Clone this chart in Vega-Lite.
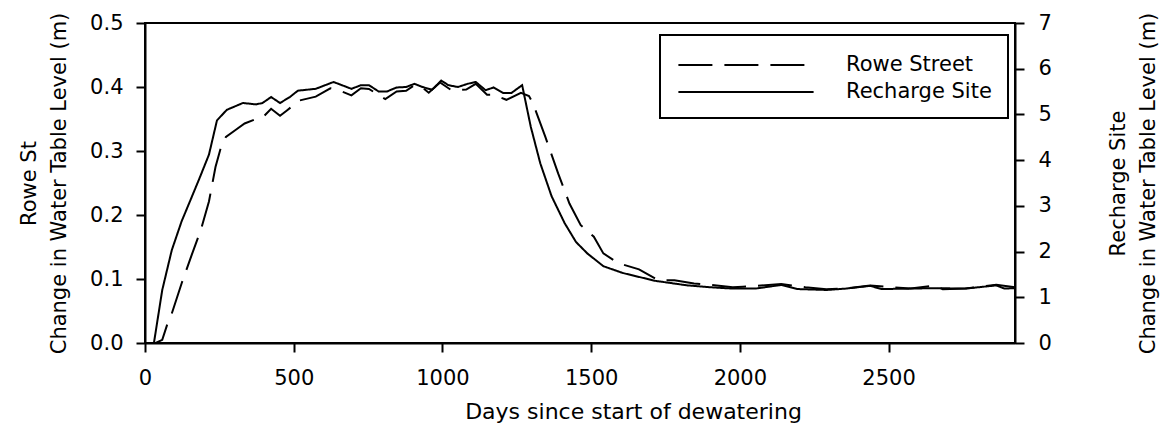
{
  "$schema": "https://vega.github.io/schema/vega-lite/v6.json",
  "width": 870,
  "height": 320,
  "autosize": {"type": "none"},
  "padding": {"left": 145, "top": 23, "right": 146, "bottom": 88},
  "background": "white",
  "config": {
    "font": "DejaVu Sans",
    "view": {"stroke": "black", "strokeWidth": 2},
    "axis": {
      "grid": false,
      "domainColor": "black",
      "domainWidth": 2,
      "tickColor": "black",
      "tickWidth": 2,
      "tickSize": 9,
      "labelColor": "black",
      "labelFont": "DejaVu Sans",
      "labelFontSize": 21,
      "labelFlush": false,
      "labelOverlap": false,
      "titleColor": "black",
      "titleFont": "DejaVu Sans",
      "titleFontSize": 21,
      "titleFontWeight": "normal",
      "titleLineHeight": 30
    },
    "legend": {
      "labelFont": "DejaVu Sans",
      "labelFontSize": 21,
      "labelColor": "black"
    }
  },
  "datasets": {
    "rowe": [
      {"day": 0, "series": "Rowe Street", "level": 0},
      {"day": 36, "series": "Rowe Street", "level": 0},
      {"day": 58, "series": "Rowe Street", "level": 0.005},
      {"day": 74, "series": "Rowe Street", "level": 0.028},
      {"day": 90, "series": "Rowe Street", "level": 0.046},
      {"day": 123, "series": "Rowe Street", "level": 0.093},
      {"day": 155, "series": "Rowe Street", "level": 0.135},
      {"day": 188, "series": "Rowe Street", "level": 0.177},
      {"day": 215, "series": "Rowe Street", "level": 0.221},
      {"day": 237, "series": "Rowe Street", "level": 0.275},
      {"day": 253, "series": "Rowe Street", "level": 0.302},
      {"day": 272, "series": "Rowe Street", "level": 0.322},
      {"day": 302, "series": "Rowe Street", "level": 0.332},
      {"day": 335, "series": "Rowe Street", "level": 0.343},
      {"day": 373, "series": "Rowe Street", "level": 0.350},
      {"day": 395, "series": "Rowe Street", "level": 0.352},
      {"day": 424, "series": "Rowe Street", "level": 0.366},
      {"day": 454, "series": "Rowe Street", "level": 0.355},
      {"day": 476, "series": "Rowe Street", "level": 0.363},
      {"day": 520, "series": "Rowe Street", "level": 0.379},
      {"day": 574, "series": "Rowe Street", "level": 0.385},
      {"day": 623, "series": "Rowe Street", "level": 0.398},
      {"day": 661, "series": "Rowe Street", "level": 0.393},
      {"day": 694, "series": "Rowe Street", "level": 0.387},
      {"day": 726, "series": "Rowe Street", "level": 0.398},
      {"day": 753, "series": "Rowe Street", "level": 0.397},
      {"day": 808, "series": "Rowe Street", "level": 0.381},
      {"day": 846, "series": "Rowe Street", "level": 0.393},
      {"day": 878, "series": "Rowe Street", "level": 0.394},
      {"day": 906, "series": "Rowe Street", "level": 0.403},
      {"day": 933, "series": "Rowe Street", "level": 0.399},
      {"day": 954, "series": "Rowe Street", "level": 0.391},
      {"day": 992, "series": "Rowe Street", "level": 0.407},
      {"day": 1030, "series": "Rowe Street", "level": 0.395},
      {"day": 1080, "series": "Rowe Street", "level": 0.396},
      {"day": 1112, "series": "Rowe Street", "level": 0.405},
      {"day": 1150, "series": "Rowe Street", "level": 0.388},
      {"day": 1172, "series": "Rowe Street", "level": 0.388},
      {"day": 1215, "series": "Rowe Street", "level": 0.380},
      {"day": 1264, "series": "Rowe Street", "level": 0.391},
      {"day": 1291, "series": "Rowe Street", "level": 0.386},
      {"day": 1304, "series": "Rowe Street", "level": 0.375},
      {"day": 1319, "series": "Rowe Street", "level": 0.356},
      {"day": 1346, "series": "Rowe Street", "level": 0.322},
      {"day": 1389, "series": "Rowe Street", "level": 0.265},
      {"day": 1427, "series": "Rowe Street", "level": 0.218},
      {"day": 1465, "series": "Rowe Street", "level": 0.184},
      {"day": 1509, "series": "Rowe Street", "level": 0.166},
      {"day": 1541, "series": "Rowe Street", "level": 0.140},
      {"day": 1590, "series": "Rowe Street", "level": 0.125},
      {"day": 1661, "series": "Rowe Street", "level": 0.115},
      {"day": 1726, "series": "Rowe Street", "level": 0.098},
      {"day": 1780, "series": "Rowe Street", "level": 0.098},
      {"day": 1846, "series": "Rowe Street", "level": 0.093},
      {"day": 1922, "series": "Rowe Street", "level": 0.090},
      {"day": 1976, "series": "Rowe Street", "level": 0.087},
      {"day": 2010, "series": "Rowe Street", "level": 0.088},
      {"day": 2139, "series": "Rowe Street", "level": 0.092},
      {"day": 2220, "series": "Rowe Street", "level": 0.087},
      {"day": 2291, "series": "Rowe Street", "level": 0.084},
      {"day": 2356, "series": "Rowe Street", "level": 0.085},
      {"day": 2438, "series": "Rowe Street", "level": 0.090},
      {"day": 2574, "series": "Rowe Street", "level": 0.085},
      {"day": 2655, "series": "Rowe Street", "level": 0.090},
      {"day": 2682, "series": "Rowe Street", "level": 0.084},
      {"day": 2758, "series": "Rowe Street", "level": 0.085},
      {"day": 2862, "series": "Rowe Street", "level": 0.091},
      {"day": 2925, "series": "Rowe Street", "level": 0.087}
    ],
    "recharge": [
      {"day": 0, "series": "Recharge Site", "level": 0},
      {"day": 30, "series": "Recharge Site", "level": 0},
      {"day": 58, "series": "Recharge Site", "level": 1.16},
      {"day": 90, "series": "Recharge Site", "level": 2.03},
      {"day": 123, "series": "Recharge Site", "level": 2.66},
      {"day": 155, "series": "Recharge Site", "level": 3.16},
      {"day": 183, "series": "Recharge Site", "level": 3.60},
      {"day": 215, "series": "Recharge Site", "level": 4.12},
      {"day": 242, "series": "Recharge Site", "level": 4.87},
      {"day": 275, "series": "Recharge Site", "level": 5.10},
      {"day": 329, "series": "Recharge Site", "level": 5.25},
      {"day": 373, "series": "Recharge Site", "level": 5.22},
      {"day": 395, "series": "Recharge Site", "level": 5.25},
      {"day": 424, "series": "Recharge Site", "level": 5.38},
      {"day": 454, "series": "Recharge Site", "level": 5.25},
      {"day": 487, "series": "Recharge Site", "level": 5.38},
      {"day": 514, "series": "Recharge Site", "level": 5.52},
      {"day": 574, "series": "Recharge Site", "level": 5.56},
      {"day": 634, "series": "Recharge Site", "level": 5.71},
      {"day": 694, "series": "Recharge Site", "level": 5.56},
      {"day": 726, "series": "Recharge Site", "level": 5.64},
      {"day": 753, "series": "Recharge Site", "level": 5.64},
      {"day": 786, "series": "Recharge Site", "level": 5.50},
      {"day": 813, "series": "Recharge Site", "level": 5.50},
      {"day": 846, "series": "Recharge Site", "level": 5.59},
      {"day": 878, "series": "Recharge Site", "level": 5.60},
      {"day": 906, "series": "Recharge Site", "level": 5.67},
      {"day": 933, "series": "Recharge Site", "level": 5.60},
      {"day": 965, "series": "Recharge Site", "level": 5.54},
      {"day": 996, "series": "Recharge Site", "level": 5.74},
      {"day": 1020, "series": "Recharge Site", "level": 5.64},
      {"day": 1052, "series": "Recharge Site", "level": 5.60},
      {"day": 1085, "series": "Recharge Site", "level": 5.67},
      {"day": 1112, "series": "Recharge Site", "level": 5.71},
      {"day": 1145, "series": "Recharge Site", "level": 5.53},
      {"day": 1172, "series": "Recharge Site", "level": 5.59},
      {"day": 1204, "series": "Recharge Site", "level": 5.47},
      {"day": 1232, "series": "Recharge Site", "level": 5.47},
      {"day": 1268, "series": "Recharge Site", "level": 5.64},
      {"day": 1297, "series": "Recharge Site", "level": 4.73},
      {"day": 1329, "series": "Recharge Site", "level": 3.93},
      {"day": 1367, "series": "Recharge Site", "level": 3.21},
      {"day": 1411, "series": "Recharge Site", "level": 2.62},
      {"day": 1449, "series": "Recharge Site", "level": 2.21},
      {"day": 1487, "series": "Recharge Site", "level": 1.96},
      {"day": 1541, "series": "Recharge Site", "level": 1.68},
      {"day": 1607, "series": "Recharge Site", "level": 1.53},
      {"day": 1715, "series": "Recharge Site", "level": 1.36},
      {"day": 1824, "series": "Recharge Site", "level": 1.26},
      {"day": 1900, "series": "Recharge Site", "level": 1.22},
      {"day": 1976, "series": "Recharge Site", "level": 1.19},
      {"day": 2052, "series": "Recharge Site", "level": 1.19},
      {"day": 2139, "series": "Recharge Site", "level": 1.27},
      {"day": 2193, "series": "Recharge Site", "level": 1.18},
      {"day": 2291, "series": "Recharge Site", "level": 1.16},
      {"day": 2356, "series": "Recharge Site", "level": 1.19},
      {"day": 2438, "series": "Recharge Site", "level": 1.25},
      {"day": 2476, "series": "Recharge Site", "level": 1.18},
      {"day": 2574, "series": "Recharge Site", "level": 1.19},
      {"day": 2655, "series": "Recharge Site", "level": 1.20},
      {"day": 2758, "series": "Recharge Site", "level": 1.19},
      {"day": 2862, "series": "Recharge Site", "level": 1.26},
      {"day": 2889, "series": "Recharge Site", "level": 1.19},
      {"day": 2925, "series": "Recharge Site", "level": 1.20}
    ]
  },
  "layer": [
    {
      "data": {"name": "rowe"},
      "mark": {"type": "line", "color": "black", "strokeWidth": 2},
      "encoding": {
        "x": {
          "field": "day",
          "type": "quantitative",
          "scale": {"domain": [0, 2925], "nice": false, "zero": false},
          "axis": {
            "values": [0, 500, 1000, 1500, 2000, 2500],
            "format": "d",
            "labelPadding": 15,
            "title": "Days since start of dewatering",
            "titleFontSize": 22,
            "titleX": 488,
            "titleAlign": "center",
            "titlePadding": 13
          }
        },
        "y": {
          "field": "level",
          "type": "quantitative",
          "scale": {"domain": [0, 0.5], "nice": false},
          "axis": {
            "orient": "left",
            "values": [0, 0.1, 0.2, 0.3, 0.4, 0.5],
            "format": ".1f",
            "labelPadding": 13,
            "title": ["Rowe St", "Change in Water Table Level (m)"],
            "titlePadding": 20
          }
        },
        "strokeDash": {
          "field": "series",
          "type": "nominal",
          "scale": {"domain": ["Rowe Street", "Recharge Site"], "range": [[34, 12], [1, 0]]},
          "legend": {
            "title": null,
            "orient": "none",
            "legendX": 515,
            "legendY": 12,
            "padding": 16,
            "rowPadding": 3,
            "strokeColor": "black",
            "symbolType": "M-5.2,0H5.2",
            "symbolSize": 676,
            "symbolOffset": 56,
            "symbolStrokeColor": "black",
            "symbolStrokeWidth": 2,
            "labelOffset": 86,
            "encode": {"legend": {"update": {"strokeWidth": {"value": 2}}}}
          }
        }
      }
    },
    {
      "data": {"name": "recharge"},
      "mark": {"type": "line", "color": "black", "strokeWidth": 2},
      "encoding": {
        "x": {"field": "day", "type": "quantitative"},
        "y": {
          "field": "level",
          "type": "quantitative",
          "scale": {"domain": [0, 7], "nice": false},
          "axis": {
            "orient": "right",
            "values": [0, 1, 2, 3, 4, 5, 6, 7],
            "format": "d",
            "labelPadding": 14,
            "title": ["Recharge Site", "Change in Water Table Level (m)"],
            "titleAngle": -90,
            "titleBaseline": "top",
            "titlePadding": 26
          }
        },
        "strokeDash": {"field": "series", "type": "nominal"}
      }
    }
  ],
  "resolve": {"scale": {"y": "independent"}}
}
